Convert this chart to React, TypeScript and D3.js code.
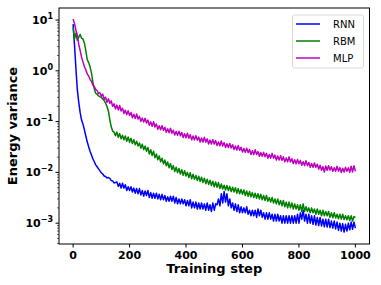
import * as d3 from "d3";

// energy variance sampled every 5 training steps (0..1000)
const STEP = 5;

const rnn = [
  8.3, 3.2, 1.1, 0.42, 0.24, 0.15, 0.107, 0.089, 0.069, 0.052,
  0.040, 0.032, 0.026, 0.022, 0.0186, 0.0162, 0.0141, 0.0129, 0.0117, 0.0107,
  0.0098, 0.0093, 0.0085, 0.0083, 0.0078, 0.0079, 0.0076, 0.0069, 0.0068, 0.0062,
  0.0063, 0.0065, 0.0053, 0.0061, 0.0049, 0.0061, 0.0049, 0.0057, 0.0044, 0.0052,
  0.0044, 0.0052, 0.0041, 0.0049, 0.0039, 0.0048, 0.0038, 0.0048, 0.0036, 0.0044,
  0.0034, 0.0043, 0.0035, 0.0044, 0.0032, 0.0040, 0.0031, 0.0039, 0.0031, 0.0039,
  0.0030, 0.0037, 0.0029, 0.0037, 0.0029, 0.0035, 0.0027, 0.0033, 0.0027, 0.0034,
  0.0027, 0.0034, 0.0025, 0.0032, 0.0024, 0.0030, 0.0024, 0.0030, 0.0024, 0.0029,
  0.0022, 0.0028, 0.0022, 0.0029, 0.0020, 0.0026, 0.0020, 0.0026, 0.0019, 0.0025,
  0.0019, 0.0025, 0.0019, 0.0024, 0.0018, 0.0025, 0.0018, 0.0023, 0.0017, 0.0025,
  0.0018, 0.0024, 0.0023, 0.0030, 0.0022, 0.0038, 0.0025, 0.0042, 0.0026, 0.0038,
  0.0022, 0.0030, 0.0020, 0.0025, 0.0018, 0.0024, 0.0017, 0.0023, 0.0016, 0.0021,
  0.0016, 0.0020, 0.0016, 0.0021, 0.0015, 0.0018, 0.0014, 0.0018, 0.0014, 0.0018,
  0.0013, 0.0019, 0.0014, 0.0018, 0.0013, 0.0016, 0.0012, 0.0016, 0.0012, 0.0016,
  0.0012, 0.0015, 0.0011, 0.0015, 0.0011, 0.0015, 0.0011, 0.0014, 0.0010, 0.0014,
  0.0010, 0.0014, 0.0010, 0.0014, 0.0010, 0.0014, 0.0010, 0.0014, 0.0010, 0.0015,
  0.0010, 0.0016, 0.0012, 0.0018, 0.0011, 0.0015, 0.0010, 0.0015, 0.0010, 0.0014,
  0.00095, 0.0014, 0.00092, 0.0013, 0.0009, 0.0013, 0.00088, 0.0012, 0.00085, 0.0012,
  0.00084, 0.0012, 0.00082, 0.0011, 0.0008, 0.0011, 0.00077, 0.00105, 0.00072, 0.001,
  0.0007, 0.00098, 0.00067, 0.00095, 0.0007, 0.001, 0.00074, 0.00105, 0.00076, 0.00105,
  0.0008,
];

const rbm = [
  7.1, 4.2, 5.5, 4.0, 4.6, 5.2, 4.4, 4.2, 3.5, 2.5,
  1.66, 1.45, 1.2, 0.91, 0.60, 0.44, 0.36, 0.35, 0.32, 0.31,
  0.30, 0.28, 0.26, 0.23, 0.20, 0.16, 0.11, 0.079, 0.065, 0.062,
  0.053, 0.062, 0.049, 0.058, 0.046, 0.054, 0.044, 0.052, 0.041, 0.050,
  0.039, 0.047, 0.037, 0.044, 0.035, 0.041, 0.033, 0.038, 0.030, 0.036,
  0.028, 0.033, 0.026, 0.031, 0.023, 0.028, 0.0215, 0.026, 0.0195, 0.023,
  0.0177, 0.021, 0.0162, 0.019, 0.0147, 0.0175, 0.0135, 0.016, 0.0123, 0.0149,
  0.0114, 0.0136, 0.0104, 0.0126, 0.0099, 0.0119, 0.0093, 0.0113, 0.0088, 0.0108,
  0.0085, 0.0100, 0.0079, 0.0098, 0.0075, 0.0092, 0.0073, 0.0087, 0.0069, 0.0084,
  0.0066, 0.0080, 0.0063, 0.0077, 0.0060, 0.0073, 0.0058, 0.0070, 0.0055, 0.0067,
  0.0052, 0.0065, 0.0051, 0.0063, 0.0048, 0.0059, 0.0047, 0.0056, 0.0045, 0.0055,
  0.0044, 0.0053, 0.0042, 0.0051, 0.0041, 0.0050, 0.0039, 0.0048, 0.0038, 0.0046,
  0.0037, 0.0045, 0.0035, 0.0043, 0.0034, 0.0042, 0.0033, 0.0040, 0.0032, 0.0039,
  0.0031, 0.0038, 0.0030, 0.0037, 0.0029, 0.0035, 0.0028, 0.0035, 0.0027, 0.0032,
  0.0026, 0.0032, 0.0025, 0.0030, 0.0024, 0.0030, 0.0023, 0.0028, 0.0022, 0.0028,
  0.0021, 0.0026, 0.0020, 0.0026, 0.0020, 0.0025, 0.0019, 0.0024, 0.0019, 0.0023,
  0.0018, 0.0023, 0.0017, 0.0024, 0.0017, 0.0021, 0.0017, 0.0020, 0.0016, 0.0020,
  0.0016, 0.0019, 0.0015, 0.0019, 0.0015, 0.0018, 0.0014, 0.0018, 0.0014, 0.0017,
  0.0014, 0.0017, 0.0013, 0.0016, 0.00128, 0.0016, 0.00127, 0.0015, 0.00122, 0.0015,
  0.0012, 0.0015, 0.00118, 0.0014, 0.00117, 0.0014, 0.00113, 0.0014, 0.0011, 0.00135,
  0.0013,
];

const mlp = [
  10.5, 8.5, 6.3, 5.0, 3.3, 2.5, 1.86, 1.5, 1.2, 1.05,
  0.87, 0.79, 0.68, 0.62, 0.52, 0.49, 0.43, 0.41, 0.36, 0.37,
  0.316, 0.347, 0.275, 0.302, 0.240, 0.282, 0.229, 0.257, 0.200, 0.224,
  0.178, 0.211, 0.170, 0.207, 0.162, 0.184, 0.145, 0.168, 0.138, 0.164,
  0.132, 0.151, 0.119, 0.140, 0.115, 0.141, 0.112, 0.127, 0.101, 0.117,
  0.098, 0.116, 0.094, 0.107, 0.085, 0.099, 0.081, 0.100, 0.0785, 0.090,
  0.0708, 0.083, 0.069, 0.083, 0.0676, 0.0776, 0.0617, 0.0724, 0.0603, 0.0741,
  0.0589, 0.0676, 0.0543, 0.0638, 0.0537, 0.0646, 0.0525, 0.061, 0.0484, 0.0575,
  0.0479, 0.0589, 0.0473, 0.055, 0.0437, 0.0519, 0.0437, 0.0525, 0.0432, 0.0495,
  0.0398, 0.0473, 0.0398, 0.049, 0.0394, 0.0457, 0.0363, 0.0432, 0.0363, 0.0442,
  0.0363, 0.0422, 0.0339, 0.0398, 0.0335, 0.0417, 0.0331, 0.0385, 0.0309, 0.0367,
  0.0309, 0.0372, 0.0302, 0.0351, 0.0282, 0.0331, 0.0275, 0.0339, 0.0272, 0.0313,
  0.0251, 0.0295, 0.0248, 0.0299, 0.0245, 0.0282, 0.0226, 0.0266, 0.0224, 0.0279,
  0.0224, 0.0257, 0.0207, 0.0245, 0.0207, 0.0248, 0.0204, 0.0237, 0.0191, 0.0226,
  0.0191, 0.0237, 0.0191, 0.0219, 0.0176, 0.0209, 0.0176, 0.0214, 0.0174, 0.0202,
  0.0162, 0.0193, 0.0162, 0.0202, 0.016, 0.0186, 0.015, 0.0178, 0.0148, 0.018,
  0.0148, 0.0172, 0.0138, 0.0162, 0.0136, 0.017, 0.0136, 0.0157, 0.0126, 0.015,
  0.0126, 0.0153, 0.0126, 0.0145, 0.0116, 0.0138, 0.011, 0.013, 0.0102, 0.0133,
  0.011, 0.0135, 0.0111, 0.0129, 0.0105, 0.0124, 0.0105, 0.0132, 0.0106, 0.0124,
  0.010, 0.012, 0.0102, 0.0126, 0.0105, 0.0123, 0.010, 0.0132, 0.0102, 0.0135,
  0.0105,
];

const series = [
  { name: "RNN", color: "#0000ff", values: rnn },
  { name: "RBM", color: "#008000", values: rbm },
  { name: "MLP", color: "#bf00bf", values: mlp },
];

const xTicks = [0, 200, 400, 600, 800, 1000];
const yDecades = [1, 0, -1, -2, -3];

const W = 381;
const H = 285;
const left = 59;
const right = 369.5;
const top = 8;
const bottom = 244;

const font = "'DejaVu Sans', sans-serif";

export default function App() {
  const x = d3.scaleLinear().domain([-50, 1050]).range([left, right]);
  const y = d3.scaleLog().domain([Math.pow(10, -3.41), Math.pow(10, 1.237)]).range([bottom, top]);

  const line = d3
    .line<number>()
    .x((_, i) => x(i * STEP))
    .y((d) => y(d));

  const minorTicks: number[] = [];
  const [lo, hi] = y.domain();
  for (let e = -4; e <= 1; e++) {
    for (let k = 2; k <= 9; k++) {
      const v = k * Math.pow(10, e);
      if (v > lo && v < hi) minorTicks.push(v);
    }
  }

  return (
    <svg
      width={W}
      height={H}
      style={{ position: "absolute", left: 0, top: 0, background: "#fff" }}
      fontFamily={font}
    >
      <defs>
        <clipPath id="plot">
          <rect x={left} y={top} width={right - left} height={bottom - top} />
        </clipPath>
      </defs>

      <g clipPath="url(#plot)" fill="none" strokeWidth={1.5} strokeLinejoin="round">
        {series.map((s) => (
          <path key={s.name} d={line(s.values) ?? ""} stroke={s.color} />
        ))}
      </g>

      <rect x={left} y={top} width={right - left} height={bottom - top} fill="none" stroke="#000" strokeWidth={1} />

      {/* x axis */}
      <g>
        {xTicks.map((t) => (
          <g key={t} transform={`translate(${x(t)},${bottom})`}>
            <line y2={3.5} stroke="#000" />
            <text y={14.5} textAnchor="middle" fontSize={11} fontWeight="bold">
              {t}
            </text>
          </g>
        ))}
        <text x={(left + right) / 2} y={273} textAnchor="middle" fontSize={13} fontWeight="bold">
          Training step
        </text>
      </g>

      {/* y axis */}
      <g>
        {minorTicks.map((v) => (
          <line key={v} x1={left - 2} x2={left} y1={y(v)} y2={y(v)} stroke="#000" strokeWidth={0.6} />
        ))}
        {yDecades.map((e) => (
          <g key={e} transform={`translate(${left},${y(Math.pow(10, e))})`}>
            <line x2={-3.5} stroke="#000" />
            <text x={-6} y={4} textAnchor="end" fontSize={11} fontWeight="bold">
              10
              <tspan dy={-5} fontSize={8}>
                {e < 0 ? `\u2212${-e}` : e}
              </tspan>
            </text>
          </g>
        ))}
        <text
          transform={`translate(17,${(top + bottom) / 2}) rotate(-90)`}
          textAnchor="middle"
          fontSize={13}
          fontWeight="bold"
        >
          Energy variance
        </text>
      </g>

      {/* legend */}
      <g>
        <rect x={292.5} y={15} width={71} height={53} rx={2} fill="#fff" fillOpacity={0.8} stroke="#d0d0d0" strokeWidth={0.8} />
        {series.map((s, i) => {
          const ly = 24 + i * 17;
          return (
            <g key={s.name}>
              <line x1={296} x2={320} y1={ly} y2={ly} stroke={s.color} strokeWidth={1.5} />
              <text x={333} y={ly + 3.5} fontSize={10}>
                {s.name}
              </text>
            </g>
          );
        })}
      </g>
    </svg>
  );
}
